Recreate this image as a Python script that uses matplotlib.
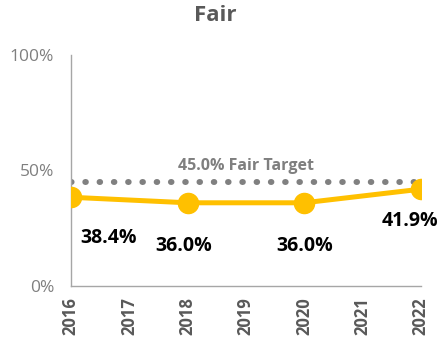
import numpy as np
import matplotlib
matplotlib.use("Agg")
import matplotlib.pyplot as plt

plt.rcParams['font.family'] = ['Open Sans', 'DejaVu Sans']

years = [2016, 2017, 2018, 2019, 2020, 2021, 2022]
point_years = [2016, 2018, 2020, 2022]
fair_share = [38.4, 36.0, 36.0, 41.9]
target = 45.0
target_label = "45.0% Fair Target"

GREY = "#595959"
GOLD = "#FFC000"

fig = plt.figure(figsize=(4.43, 3.5), dpi=100)
ax = fig.add_axes([0.160, 0.183, 0.790, 0.660])

# dotted target line across the whole period
ax.plot([years[0], years[-1]], [target, target], linestyle=(0, (0.1, 2.29)),
        color="#808080", linewidth=4.3, dash_capstyle='round', zorder=2)
ax.text(2019, target + 3.5, target_label, ha='center', va='bottom',
        color="#7f7f7f", fontsize=11.5, fontweight='bold')

ax.plot(point_years, fair_share, color=GOLD, linewidth=3.6, marker='o',
        markersize=14.5, zorder=3)

offsets = [(27, -22), (-3, -24), (0, -24), (-8, -16)]
for x, v, off in zip(point_years, fair_share, offsets):
    ax.annotate(f"{v:.1f}%", (x, v), xytext=off, textcoords='offset points',
                ha='center', va='top', fontsize=14, fontweight='bold', color='black')

ax.set_xlim(2016, 2022)
ax.set_ylim(0, 100)
ax.set_yticks([0, 50, 100])
ax.set_yticklabels(["0%", "50%", "100%"])
ax.set_xticks(years)
ax.set_xticklabels([str(y) for y in years], rotation=90, fontweight='bold')
ax.tick_params(axis='both', length=0, colors=GREY)
ax.tick_params(axis='y', pad=12, labelsize=12.5, labelcolor="#7f7f7f")
ax.tick_params(axis='x', pad=8, labelsize=12)
for s in ['top', 'right']:
    ax.spines[s].set_visible(False)
for s in ['left', 'bottom']:
    ax.spines[s].set_color("#a6a6a6")
    ax.spines[s].set_linewidth(1)

fig.suptitle("Fair", x=0.485, y=0.985, fontsize=16, fontweight='bold', color=GREY, va='top')

fig.savefig("out.png", dpi=100)
